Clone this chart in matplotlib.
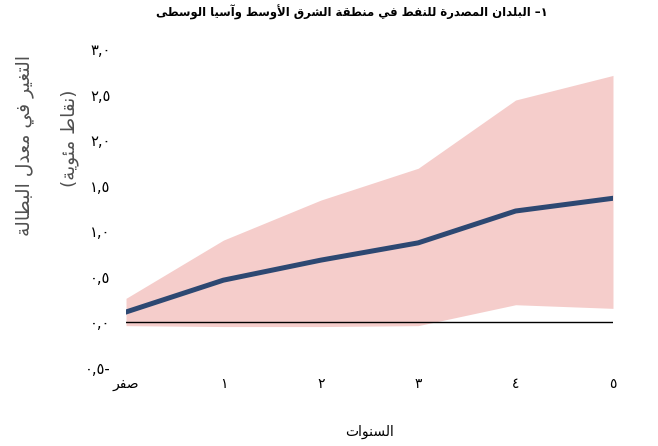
import matplotlib
matplotlib.use("Agg")
import matplotlib.pyplot as plt

# Data (percentage points)
years = [0, 1, 2, 3, 4, 5]
year_labels = ["صفر", "١", "٢", "٣", "٤", "٥"]
central = [0.11, 0.46, 0.68, 0.87, 1.22, 1.36]
upper = [0.26, 0.90, 1.34, 1.69, 2.44, 2.71]
lower = [-0.04, -0.05, -0.05, -0.04, 0.19, 0.15]
y_ticks = [-0.5, 0.0, 0.5, 1.0, 1.5, 2.0, 2.5, 3.0]
y_tick_labels = ["٠,٥-", "٠,٠", "٠,٥", "١,٠", "١,٥", "٢,٠", "٢,٥", "٣,٠"]

title = "١– البلدان المصدرة للنفط في منطقة الشرق الأوسط وآسيا الوسطى"
ylabel_1 = "التغير في معدل البطالة"
ylabel_2 = "(نقاط مئوية)"
xlabel = "السنوات"

# matplotlib has no Arabic shaping, so pick the presentation forms by hand
# (start codepoint, number of forms: iso, fin, ini, med)
FORMS = {'ء': (0xFE80, 1), 'آ': (0xFE81, 2), 'أ': (0xFE83, 2), 'ؤ': (0xFE85, 2),
         'إ': (0xFE87, 2), 'ئ': (0xFE89, 4), 'ا': (0xFE8D, 2), 'ب': (0xFE8F, 4),
         'ة': (0xFE93, 2), 'ت': (0xFE95, 4), 'ث': (0xFE99, 4), 'ج': (0xFE9D, 4),
         'ح': (0xFEA1, 4), 'خ': (0xFEA5, 4), 'د': (0xFEA9, 2), 'ذ': (0xFEAB, 2),
         'ر': (0xFEAD, 2), 'ز': (0xFEAF, 2), 'س': (0xFEB1, 4), 'ش': (0xFEB5, 4),
         'ص': (0xFEB9, 4), 'ض': (0xFEBD, 4), 'ط': (0xFEC1, 4), 'ظ': (0xFEC5, 4),
         'ع': (0xFEC9, 4), 'غ': (0xFECD, 4), 'ف': (0xFED1, 4), 'ق': (0xFED5, 4),
         'ك': (0xFED9, 4), 'ل': (0xFEDD, 4), 'م': (0xFEE1, 4), 'ن': (0xFEE5, 4),
         'ه': (0xFEE9, 4), 'و': (0xFEED, 2), 'ى': (0xFEEF, 2), 'ي': (0xFEF1, 4)}
LAM_ALEF = {'آ': 0xFEF5, 'أ': 0xFEF7, 'إ': 0xFEF9, 'ا': 0xFEFB}


def joins_next(c):
    return c in FORMS and FORMS[c][1] == 4


def joins_prev(c):
    return c in FORMS and FORMS[c][1] >= 2


def shape(text):
    out = []
    i = 0
    while i < len(text):
        c = text[i]
        if c not in FORMS:
            out.append({'(': ')', ')': '('}.get(c, c))
            i += 1
            continue
        prev = text[i - 1] if i > 0 else ''
        p = joins_next(prev) and joins_prev(c)
        nxt = text[i + 1] if i + 1 < len(text) else ''
        if c == 'ل' and nxt in LAM_ALEF:
            out.append(chr(LAM_ALEF[nxt] + (1 if p else 0)))
            i += 2
            continue
        q = joins_next(c) and joins_prev(nxt)
        off = 3 if (p and q) else 1 if p else 2 if q else 0
        out.append(chr(FORMS[c][0] + off))
        i += 1
    return ''.join(reversed(out))


fig = plt.figure(figsize=(6.58, 4.46), dpi=100)
ax = fig.add_axes([0.1915, 0.176, 0.7401, 0.714])

ax.fill_between(years, lower, upper, color='#F5CDCB', linewidth=0)
ax.axhline(0, color='black', linewidth=1.0)
ax.plot(years, central, color='#2D4872', linewidth=3.6)

ax.set_xlim(0, 5)
ax.set_ylim(-0.5, 3.0)
ax.set_xticks(years)
ax.set_xticklabels([shape(s) for s in year_labels], fontsize=10)
ax.set_yticks(y_ticks)
ax.set_yticklabels(y_tick_labels, fontsize=10.5)
ax.tick_params(axis='y', length=0, pad=11)
ax.tick_params(axis='x', length=0, pad=7)
for s in ax.spines.values():
    s.set_visible(False)

fig.text(0.535, 0.972, shape(title), ha='center', va='center',
         fontsize=8.4, fontweight='bold')
fig.text(0.0365, 0.673, shape(ylabel_1), ha='center', va='center',
         rotation=90, fontsize=13.5, color='#505050')
fig.text(0.106, 0.691, shape(ylabel_2), ha='center', va='center',
         rotation=90, fontsize=13.2, color='#505050')
fig.text(0.562, 0.031, shape(xlabel), ha='center', va='center', fontsize=10)

fig.savefig("out.png", dpi=100)
